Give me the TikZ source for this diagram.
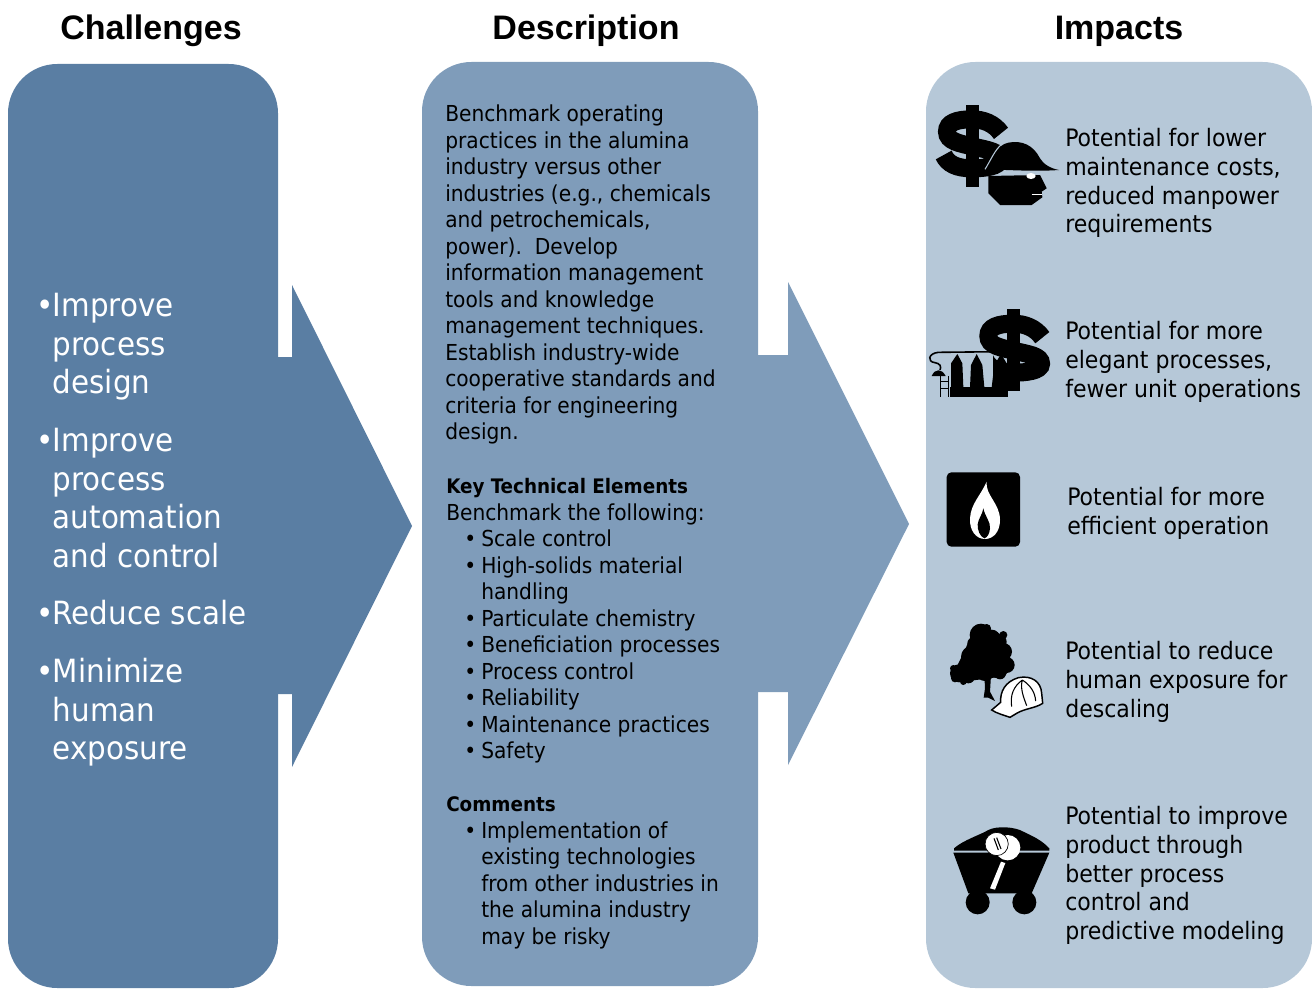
\documentclass[tikz,border=0pt]{standalone}
\usepackage{fontspec}
\setmainfont[FakeStretch=1.02]{DejaVu Sans Condensed}
\newfontfamily\headfont{Liberation Sans}
\definecolor{panelA}{HTML}{5A7EA3}
\definecolor{panelB}{HTML}{7F9CBA}
\definecolor{panelC}{HTML}{B6C8D8}
\tikzset{
 x=0.75pt,y=-0.75pt,
 panel/.style={rounded corners=37pt},
 heading/.style={anchor=base,font=\headfont\bfseries\fontsize{25.5}{30}\selectfont,inner sep=0pt},
 bigtext/.style={anchor=north west,align=left,inner sep=0pt,text=white,font=\fontsize{24}{28.9}\selectfont},
 midtext/.style={anchor=north west,align=left,inner sep=0pt,text=black,font=\fontsize{16.5}{19.9}\selectfont},
 imptext/.style={anchor=north west,align=left,inner sep=0pt,text=black,font=\fontsize{18}{21.6}\selectfont},
 ink/.style={fill=black,draw=none},
}
\newcommand{\bul}{\makebox[12.75pt][l]{•}}
\newcommand{\bbul}{\makebox[12.5pt][l]{•}}
\newcommand{\keyhead}[1]{{\fontsize{15}{19.9}\selectfont\bfseries #1}}
\newcommand{\dollarsign}{%
 \draw[line width=13.5pt,black] (228,130) .. controls (207,100) and (175,88) .. (140,88) .. controls (95,88) and (66,98) .. (66,125) .. controls (66,155) and (105,160) .. (145,170) .. controls (190,180) and (224,185) .. (224,208) .. controls (224,230) and (180,235) .. (140,235) .. controls (95,235) and (68,222) .. (56,195);
 \fill[ink] (122,45) rectangle (162,290);}
\begin{document}
\begin{tikzpicture}
\useasboundingbox (0,0) rectangle (1312,988);
% panels and arrows
\fill[panelA] (278,357) -- (292,357) -- (292,285) -- (412,526) -- (292,767) -- (292,694) -- (278,694) -- cycle;
\fill[panelB] (758,355) -- (788,355) -- (788,282) -- (909,524) -- (788,765) -- (788,692) -- (758,692) -- cycle;
\fill[panelA,panel] (8,64) rectangle (278,988);
\fill[panelB,panel] (422,62) rectangle (758,986);
\fill[panelC,panel] (926,62) rectangle (1312,988);
% headings
\node[heading] (h1) at (151,40) {Challenges};
\node[heading] (h2) at (586,40) {Description};
\node[heading] (h3) at (1119,40) {Impacts};
% left
\node[bigtext] (ch) at (36,293) {\bbul Improve\\\hspace{12.5pt}process\\\hspace{12.5pt}design};
\node[bigtext] (ch2) at (36,428) {\bbul Improve\\\hspace{12.5pt}process\\\hspace{12.5pt}automation\\\hspace{12.5pt}and control};
\node[bigtext] (ch3) at (36,600) {\bbul Reduce scale};
\node[bigtext] (ch4) at (36,658) {\bbul Minimize\\\hspace{12.5pt}human\\\hspace{12.5pt}exposure};
% middle
\node[midtext] (d1) at (445,104.5) {Benchmark operating\\practices in the alumina\\industry versus other\\industries (e.g., chemicals\\and petrochemicals,\\power).\ \ Develop\\information management\\tools and knowledge\\management techniques.\\Establish industry-wide\\cooperative standards and\\criteria for engineering\\design.};
\node[midtext] (d2) at (446,478) {\keyhead{Key Technical Elements}\\Benchmark the following:\\\hspace{13.5pt}\bul Scale control\\\hspace{13.5pt}\bul High-solids material\\\hspace{26.25pt}handling\\\hspace{13.5pt}\bul Particulate chemistry\\\hspace{13.5pt}\bul Beneficiation processes\\\hspace{13.5pt}\bul Process control\\\hspace{13.5pt}\bul Reliability\\\hspace{13.5pt}\bul Maintenance practices\\\hspace{13.5pt}\bul Safety};
\node[midtext] (d3) at (446,796.5) {\keyhead{Comments}\\\hspace{13.5pt}\bul Implementation of\\\hspace{26.25pt}existing technologies\\\hspace{26.25pt}from other industries in\\\hspace{26.25pt}the alumina industry\\\hspace{26.25pt}may be risky};
% right
\node[imptext] (i1) at (1065,128) {Potential for lower\\maintenance costs,\\reduced manpower\\requirements};
\node[imptext] (i2) at (1065,321) {Potential for more\\elegant processes,\\fewer unit operations};
\node[imptext] (i3) at (1067,487) {Potential for more\\efficient operation};
\node[imptext] (i4) at (1065,641) {Potential to reduce\\human exposure for\\descaling};
\node[imptext] (i5) at (1065,806) {Potential to improve\\product through\\better process\\control and\\predictive modeling};
% icon 1: dollar and worker
\begin{scope}[shift={(925,90)},x=0.25pt,y=-0.25pt]
 \dollarsign
 \fill[black] (180,238) .. controls (200,205) and (215,165) .. (250,158) .. controls (290,150) and (325,165) .. (345,205) .. controls (355,222) and (375,235) .. (402,240) .. controls (330,245) and (260,240) .. cycle;
 \draw[panelC,line width=0.8pt] (180,238) .. controls (200,205) and (210,180) .. (228,165);
 \fill[ink] (190,258) -- (345,255) -- (365,295) -- (350,305) -- (352,322) -- (320,345) -- (225,345) -- (190,310) -- cycle;
 \fill[white] (318,258) ellipse [x radius=14,y radius=9];
 \draw[white,line width=0.7pt] (320,312) -- (350,312);
\end{scope}
% icon 2: dollar and plant
\begin{scope}[shift={(925,300)},x=0.25pt,y=-0.25pt]
 \begin{scope}[shift={(124,-17)}]\dollarsign\end{scope}
 \fill[ink] (75,262) rectangle (250,292);
 \fill[panelC] (112,165) rectangle (205,262);
 \fill[ink] (78,262) -- (78,190) -- (97,162) -- (112,190) -- (115,262) -- cycle;
 \fill[ink] (135,262) -- (138,195) -- (155,162) -- (172,195) -- (178,262) -- cycle;
 \fill[ink] (200,262) -- (208,195) -- (228,162) -- (245,190) -- (250,262) -- cycle;
 \draw[line width=1.2pt] (225,155) -- (40,157) .. controls (10,160) and (5,185) .. (30,188) .. controls (45,190) and (50,200) .. (45,210);
 \fill[ink] (20,228) .. controls (30,205) and (50,205) .. (62,228) -- cycle;
 \draw[line width=1.2pt] (47,228) -- (47,290) (70,228) -- (70,290) (47,245) -- (70,245) (47,265) -- (70,265);
\end{scope}
% icon 3: flame
\begin{scope}[shift={(935,465)},x=0.25pt,y=-0.25pt]
 \fill[ink,rounded corners=3.5pt] (35,22) rectangle (255,245);
 \fill[white] (155,50) .. controls (150,90) and (195,115) .. (195,165) .. controls (195,200) and (175,222) .. (150,222) .. controls (122,222) and (103,195) .. (105,160) .. controls (108,115) and (135,95) .. (155,50) -- cycle;
 \fill[ink] (145,130) .. controls (150,155) and (167,170) .. (165,190) .. controls (164,205) and (157,218) .. (148,220) .. controls (135,215) and (127,195) .. (128,178) .. controls (130,160) and (142,150) .. cycle;
\end{scope}
% icon 4: tree and hard hat
\begin{scope}[shift={(935,465)},x=0.25pt,y=-0.25pt]
 \fill[ink] (148,630) -- (168,630) -- (165,680) -- (180,708) -- (160,698) -- (146,698) -- (150,670) -- cycle;
 \fill[ink] (105,520) -- (130,485) -- (205,510) -- (232,600) -- (200,635) -- (100,648) -- (55,625) -- (85,565) -- cycle;
 \foreach \cx/\cy/\r in {138/510/34,170/520/26,195/530/20,115/535/18,205/560/26,215/600/24,150/570/50,110/575/32,100/600/22,72/625/27,100/635/20,190/610/30,150/620/28,195/625/18,130/490/12,155/490/13,205/510/12,55/610/10,60/640/12,85/650/10}
  \fill[ink] (\cx,\cy) ellipse [x radius=\r,y radius=\r];
 \fill[white,draw=black,line width=1.1pt] (170,735) -- (197,712) .. controls (195,680) and (210,650) .. (250,638) .. controls (290,630) and (318,650) .. (320,685) -- (323,715) .. controls (300,730) and (270,730) .. (245,745) -- (225,757) .. controls (205,750) and (185,745) .. cycle;
 \draw[line width=0.8pt] (230,725) .. controls (225,690) and (235,665) .. (262,645) (262,645) .. controls (255,670) and (265,695) .. (275,722) (262,645) .. controls (285,660) and (300,680) .. (302,708);
\end{scope}
% icon 5: mine cart
\begin{scope}[shift={(940,815)},x=0.25pt,y=-0.25pt]
 \fill[ink] (42,107) -- (42,100) .. controls (70,75) and (120,60) .. (145,45) .. controls (170,32) and (225,35) .. (250,50) .. controls (275,62) and (305,75) .. (328,100) -- (328,107) -- cycle;
 \fill[ink] (40,113) -- (328,113) -- (275,235) -- (85,235) -- cycle;
 \fill[ink] (113,262) circle [radius=9pt];
 \fill[ink] (253,262) circle [radius=9pt];
 \fill[white] (203,98) circle [radius=9.5pt];
 \fill[white] (183,140) -- (196,144) -- (165,224) -- (150,220) -- cycle;
 \fill[white,draw=black,line width=0.5pt] (170,87) circle [radius=8.7pt];
 \draw[line width=0.8pt] (162,70) -- (175,105) (170,68) -- (183,102);
\end{scope}
\end{tikzpicture}
\end{document}
